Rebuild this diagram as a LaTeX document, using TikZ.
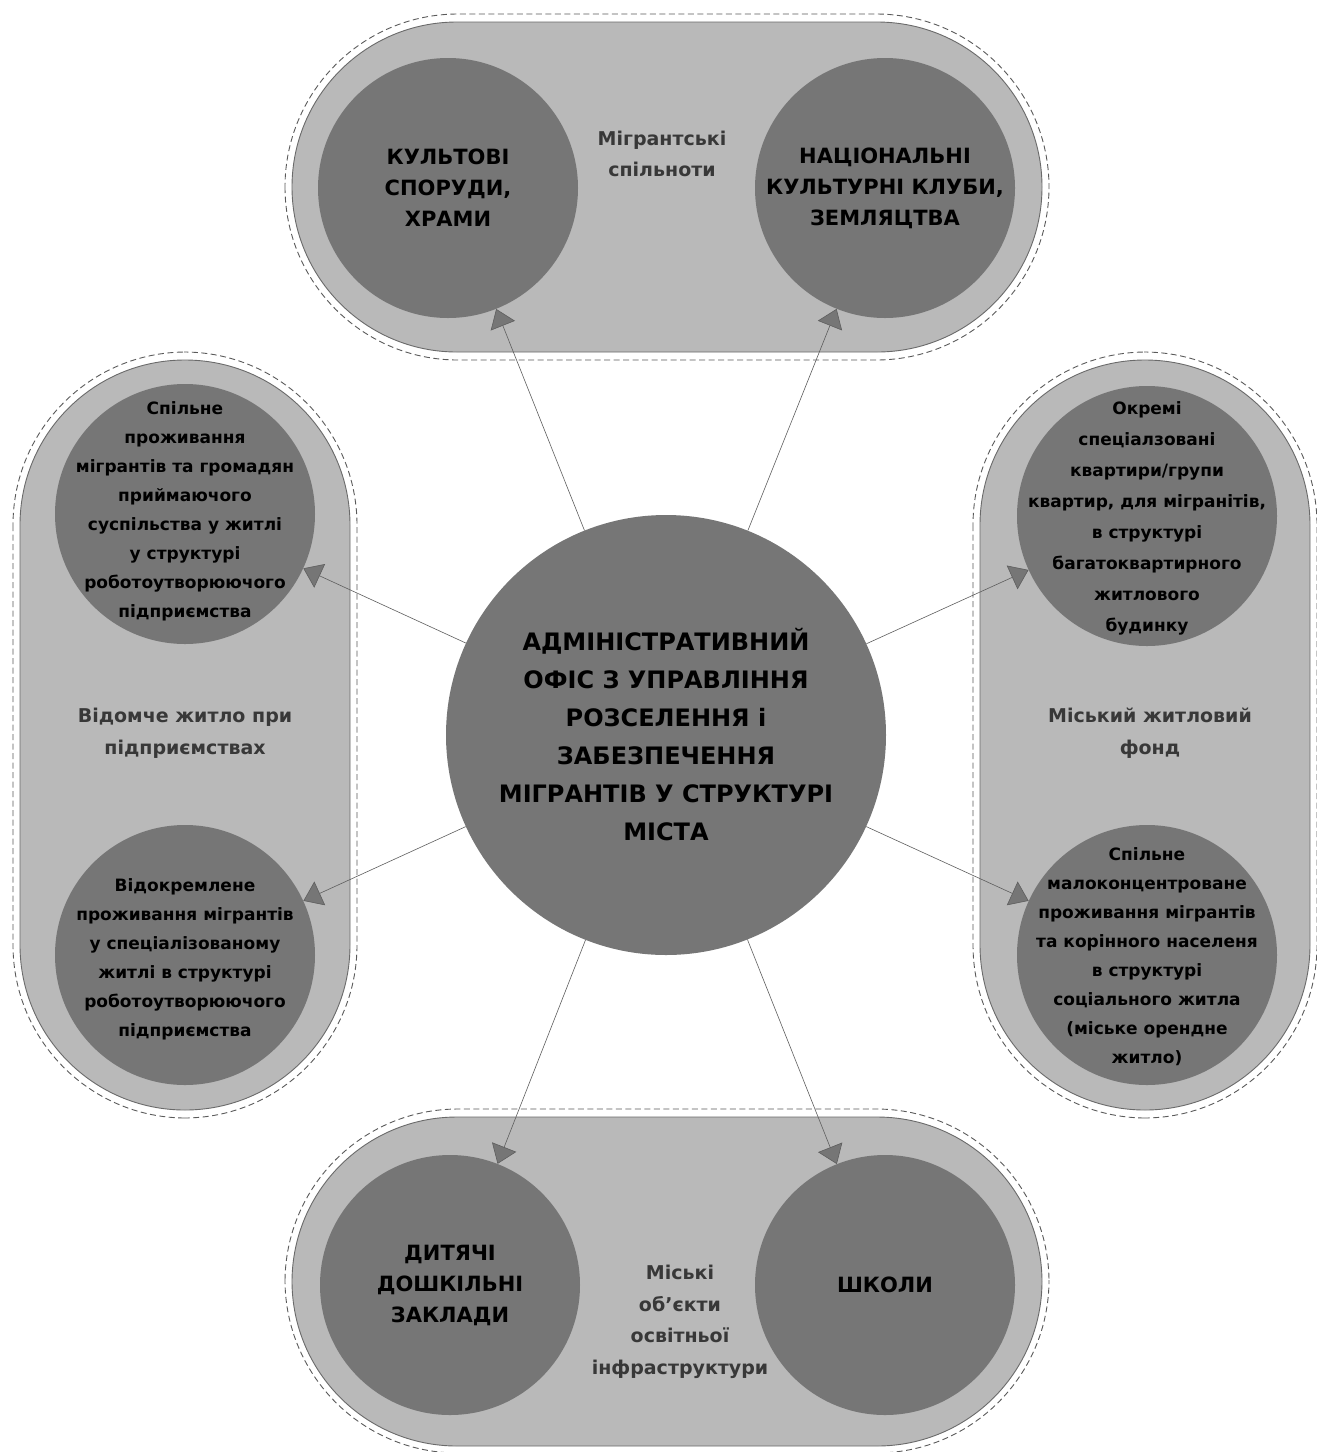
\documentclass[tikz,border=0pt]{standalone}
\usepackage{fontspec}
\setmainfont{DejaVu Sans}
\usetikzlibrary{arrows.meta}
\definecolor{stadfill}{HTML}{B9B9B9}
\definecolor{circfill}{HTML}{767676}
\definecolor{edgegray}{HTML}{6A6A6A}
\definecolor{dashgray}{HTML}{5A5A5A}
\definecolor{labelgray}{HTML}{383838}
\definecolor{arrgray}{HTML}{5E5E5E}
\begin{document}
\begin{tikzpicture}[x=1pt,y=-1pt,
  stad/.style={fill=stadfill, draw=edgegray, line width=0.9pt},
  stadout/.style={draw=dashgray, dash pattern=on 6pt off 3.5pt, line width=0.9pt},
  bigc/.style={circle, fill=circfill, minimum size=440pt, inner sep=0pt},
  satc/.style={circle, fill=circfill, minimum size=260pt, inner sep=0pt},
  bigtext/.style={align=center, font=\bfseries\fontsize{24}{38}\selectfont},
  captext/.style={align=center, font=\bfseries\fontsize{21}{31}\selectfont},
  smtext/.style={align=center, font=\bfseries\fontsize{17}{29}\selectfont},
  smtextw/.style={align=center, font=\bfseries\fontsize{17}{31}\selectfont},
  grptext/.style={align=center, text=labelgray, font=\bfseries\fontsize{19}{31.5}\selectfont},
  arr/.style={draw=arrgray, line width=0.6pt, -{Triangle[length=18pt,width=26pt,fill=circfill]}}
]
\useasboundingbox (0,0) rectangle (1317,1452);
\fill[white] (0,0) rectangle (1317,1452);

% group containers
\draw[stadout, rounded corners=173pt] (285,14) rectangle (1049,360);
\draw[stad, rounded corners=165pt] (292,22) rectangle (1042,352);

\draw[stadout, rounded corners=173pt] (285,1109) rectangle (1049,1453);
\draw[stad, rounded corners=165pt] (292,1117) rectangle (1042,1446);

\draw[stadout, rounded corners=173pt] (13,352) rectangle (357,1118);
\draw[stad, rounded corners=165pt] (20,360) rectangle (350,1110);

\draw[stadout, rounded corners=173pt] (973,352) rectangle (1317,1118);
\draw[stad, rounded corners=165pt] (980,360) rectangle (1310,1110);

% group labels
\node[grptext] (lbltop) at (662,154) {Мігрантські\\спільноти};
\node[grptext] (lblleft) at (185,733) {Відомче житло при\\підприємствах};
\node[grptext] (lblright) at (1150,733) {Міський житловий\\фонд};
\node[grptext] (lblbot) at (680,1322) {Міські\\об'єкти\\освітньої\\інфраструктури};

% circles
\node[bigc] (c) at (666,735) {};
\node[satc] (t1) at (448,188) {};
\node[satc] (t2) at (885,188) {};
\node[satc] (l1) at (185,514) {};
\node[satc] (l2) at (185,955) {};
\node[satc] (r1) at (1147,516) {};
\node[satc] (r2) at (1147,955) {};
\node[satc] (b1) at (450,1285) {};
\node[satc] (b2) at (885,1285) {};

% texts
\node[bigtext] at (c) {АДМІНІСТРАТИВНИЙ\\ОФІС З УПРАВЛІННЯ\\РОЗСЕЛЕННЯ і\\ЗАБЕЗПЕЧЕННЯ\\МІГРАНТІВ У СТРУКТУРІ\\МІСТА};
\node[captext] at (t1) {КУЛЬТОВІ\\СПОРУДИ,\\ХРАМИ};
\node[captext] at (t2) {НАЦІОНАЛЬНІ\\КУЛЬТУРНІ КЛУБИ,\\ЗЕМЛЯЦТВА};
\node[captext] at (b1) {ДИТЯЧІ\\ДОШКІЛЬНІ\\ЗАКЛАДИ};
\node[captext] at (b2) {ШКОЛИ};
\node[smtext] at ([yshift=3pt]l1) {Спільне\\проживання\\мігрантів та громадян\\приймаючого\\суспільства у житлі\\у структурі\\роботоутворюючого\\підприємства};
\node[smtext] at ([yshift=-4pt]l2) {Відокремлене\\проживання мігрантів\\у спеціалізованому\\житлі в структурі\\роботоутворюючого\\підприємства};
\node[smtextw] at ([yshift=-2pt]r1) {Окремі\\спеціалзовані\\квартири/групи\\квартир, для мігранітів,\\в структурі\\багатоквартирного\\житлового\\будинку};
\node[smtext] at ([yshift=-2pt]r2) {Спільне\\малоконцентроване\\проживання мігрантів\\та корінного населеня\\в структурі\\соціального житла\\(міське орендне\\житло)};

% connectors
\foreach \t in {t1,t2,l1,l2,r1,r2,b1,b2}
  \draw[arr] (c) -- (\t);
\end{tikzpicture}
\end{document}
